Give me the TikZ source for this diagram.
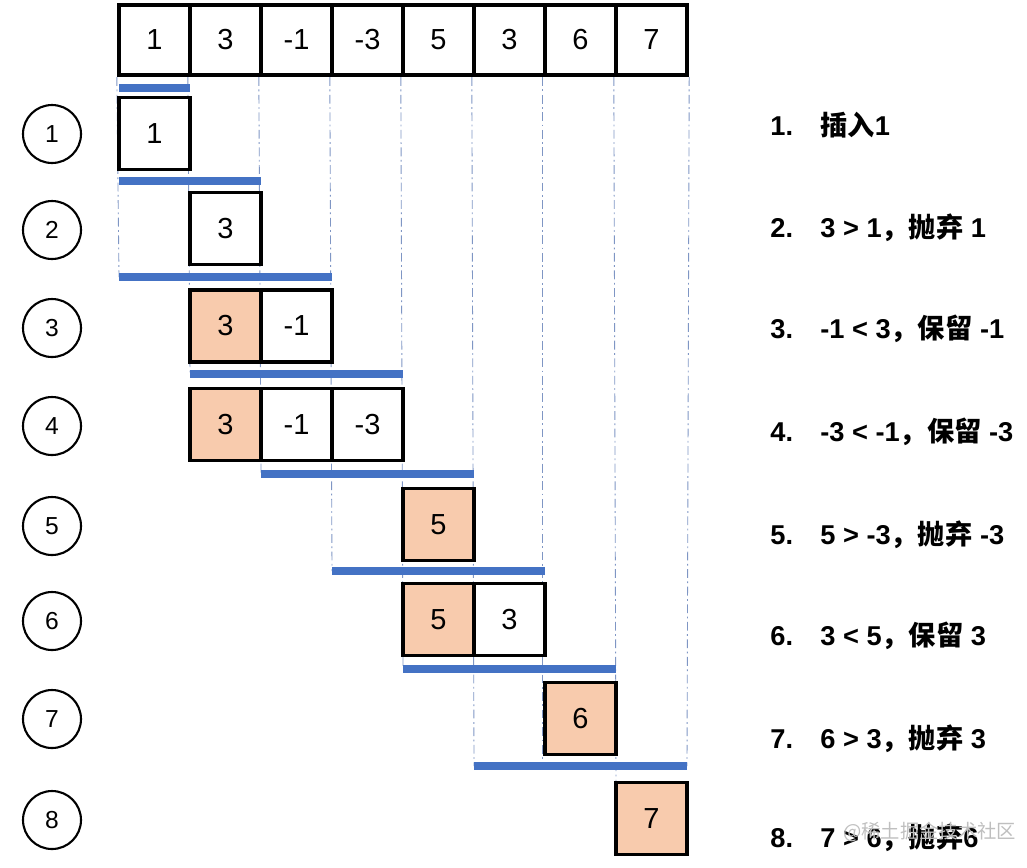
\documentclass[tikz,border=0pt]{standalone}
\usepackage{fontspec}
\setmainfont{Liberation Sans}
\newfontfamily\cjk{Noto Sans CJK SC}
\newcommand{\zh}[1]{{\cjk\bfseries #1}}
\definecolor{barblue}{HTML}{4472C4}
\definecolor{keepfill}{HTML}{F8CBAD}
\definecolor{guidecol}{HTML}{7F96C4}

\begin{document}
\begin{tikzpicture}[x=0.02cm,y=-0.02cm]
\tikzset{cell/.style = {shape=rectangle,draw,fill=white,line width=2.2pt,minimum width=1.42cm,minimum height=1.44cm,inner sep=0pt,font=\fontsize{16.5}{16.5}\selectfont}}
\tikzset{topcell/.style = {cell,line width=2.5pt,minimum height=1.4cm}}
\tikzset{kept/.style = {cell,fill=keepfill}}
\tikzset{stage/.style = {shape=circle,draw,line width=1.2pt,minimum size=1.16cm,inner sep=0pt,font=\fontsize{14}{14}\selectfont}}
\tikzset{window/.style = {barblue,line width=0.16cm}}
\tikzset{guide/.style = {guidecol,line width=0.5pt,dash pattern=on 5pt off 2pt on 1pt off 2pt}}
\tikzset{note/.style = {anchor=base west,inner sep=0pt,font=\fontsize{15.5}{15.5}\selectfont\bfseries}}
\useasboundingbox (0,0) rectangle (1027,867);

% input array
\node[topcell] (t1) at (154.5,40) {1};
\node[topcell] (t2) at (225.5,40) {3};
\node[topcell] (t3) at (296.5,40) {-1};
\node[topcell] (t4) at (367.5,40) {-3};
\node[topcell] (t5) at (438.5,40) {5};
\node[topcell] (t6) at (509.5,40) {3};
\node[topcell] (t7) at (580.5,40) {6};
\node[topcell] (t8) at (651.5,40) {7};

% window ends
\coordinate (w1a) at (119,88);  \coordinate (w1b) at (190,88);
\coordinate (w2a) at (119,181); \coordinate (w2b) at (261,181);
\coordinate (w3a) at (119,277); \coordinate (w3b) at (332,277);
\coordinate (w4a) at (190,374); \coordinate (w4b) at (403,374);
\coordinate (w5a) at (261,474); \coordinate (w5b) at (474,474);
\coordinate (w6a) at (332,571); \coordinate (w6b) at (545,571);
\coordinate (w7a) at (403,669); \coordinate (w7b) at (616,669);
\coordinate (w8a) at (474,766); \coordinate (w8b) at (687,766);
\coordinate (g7) at (616,782);

% guides
\draw[guide] (t1.south west) -- (w3a);
\draw[guide] (t2.south west) -- (w4a);
\draw[guide] (t3.south west) -- (w5a);
\draw[guide] (t4.south west) -- (w6a);
\draw[guide] (t5.south west) -- (w7a);
\draw[guide] (t6.south west) -- (w8a);
\draw[guide] (t7.south west) -- (t7.south west |- w8a);
\draw[guide] (t8.south west) -- (g7);
\draw[guide] (t8.south east) -- (w8b);

% windows
\draw[window] (w1a) -- (w1b);
\draw[window] (w2a) -- (w2b);
\draw[window] (w3a) -- (w3b);
\draw[window] (w4a) -- (w4b);
\draw[window] (w5a) -- (w5b);
\draw[window] (w6a) -- (w6b);
\draw[window] (w7a) -- (w7b);
\draw[window] (w8a) -- (w8b);

% queue contents
\node[cell] (r1a) at (154.5,133.5) {1};
\node[cell] (r2a) at (225.5,228.5) {3};
\node[kept] (r3a) at (225.5,326) {3};
\node[cell] (r3b) at (296.5,326) {-1};
\node[kept] (r4a) at (225.5,424.5) {3};
\node[cell] (r4b) at (296.5,424.5) {-1};
\node[cell] (r4c) at (367.5,424.5) {-3};
\node[kept] (r5a) at (438.5,524.5) {5};
\node[kept] (r6a) at (438.5,619.5) {5};
\node[cell] (r6b) at (509.5,619.5) {3};
\node[kept] (r7a) at (580.5,718.5) {6};
\node[kept] (r8a) at (651.5,818.5) {7};

% steps
\node[stage] (c1) at (52,134) {1};
\node[stage] (c2) at (52,230) {2};
\node[stage] (c3) at (52,328) {3};
\node[stage] (c4) at (52,426) {4};
\node[stage] (c5) at (52,526) {5};
\node[stage] (c6) at (52,621) {6};
\node[stage] (c7) at (52,719) {7};
\node[stage] (c8) at (52,820) {8};

% notes
\node[note] (n1) at (770,135.5) {1.};
\node[note] (m1) at (820,135.5) {\zh{插入}1};
\node[note] (n2) at (770,237.5) {2.};
\node[note] (m2) at (820,237.5) {3 > 1\zh{，抛弃} 1};
\node[note] (n3) at (770,338.5) {3.};
\node[note] (m3) at (820,338.5) {-1 < 3\zh{，保留} -1};
\node[note] (n4) at (770,441.5) {4.};
\node[note] (m4) at (820,441.5) {-3 < -1\zh{，保留} -3};
\node[note] (n5) at (770,544.5) {5.};
\node[note] (m5) at (820,544.5) {5 > -3\zh{，抛弃} -3};
\node[note] (n6) at (770,645.5) {6.};
\node[note] (m6) at (820,645.5) {3 < 5\zh{，保留} 3};
\node[note] (n7) at (770,748.5) {7.};
\node[note] (m7) at (820,748.5) {6 > 3\zh{，抛弃} 3};
\node[note] (n8) at (770,847.5) {8.};
\node[note] (m8) at (820,847.5) {7 > 6\zh{，抛弃}6};

\node[anchor=base west,inner sep=0pt,text=black!25,font=\cjk\fontsize{11}{11}\selectfont] (wm) at (843,838) {@稀土掘金技术社区};
\end{tikzpicture}
\end{document}
